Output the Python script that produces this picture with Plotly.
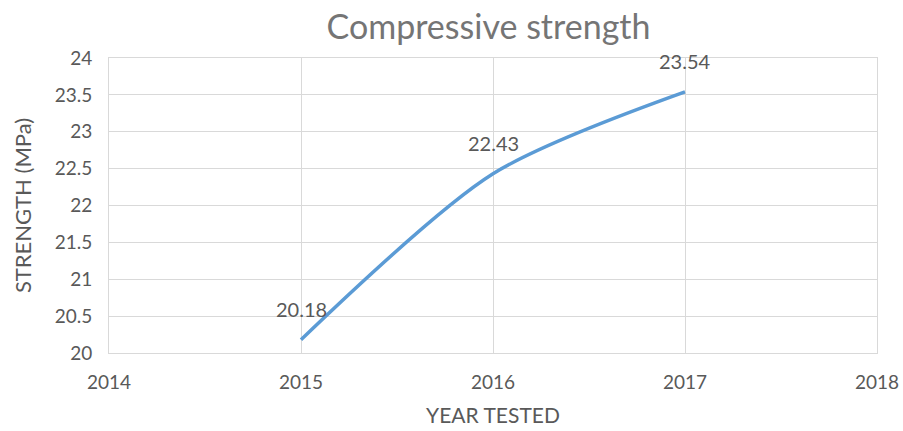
import plotly.graph_objects as go

years = [2015, 2016, 2017]
strength = [20.18, 22.43, 23.54]
labels = ["20.18", "22.43", "23.54"]
x_ticks = [2014, 2015, 2016, 2017, 2018]
y_ticks = [20, 20.5, 21, 21.5, 22, 22.5, 23, 23.5, 24]
y_tick_text = ["20", "20.5", "21", "21.5", "22", "22.5", "23", "23.5", "24"]

FONT = "Lato"
GRAY = "#595959"
GRID = "#D9D9D9"

fig = go.Figure()
fig.add_trace(go.Scatter(
    x=years, y=strength, mode="lines",
    line=dict(color="#5B9BD5", width=3.5, shape="spline", smoothing=0.8),
    hoverinfo="skip", cliponaxis=False,
))
for xv, yv, t in zip(years, strength, labels):
    fig.add_annotation(x=xv, y=yv, text=t, showarrow=False, yshift=31,
                       font=dict(family=FONT, size=20, color=GRAY))

fig.update_layout(
    width=903, height=431,
    margin=dict(l=109, r=26, t=58, b=78, autoexpand=False),
    paper_bgcolor="white", plot_bgcolor="white",
    showlegend=False,
    title=dict(text="Compressive strength", x=0.541, xanchor="center",
               y=0.937, yanchor="middle",
               font=dict(family=FONT, size=34, color="#757575")),
    font=dict(family=FONT, color=GRAY),
)
fig.update_xaxes(range=[2014, 2018], tickvals=x_ticks, ticktext=[str(v) for v in x_ticks],
                 showgrid=True, gridcolor=GRID, gridwidth=1, zeroline=False,
                 showline=True, linecolor=GRID, linewidth=1, mirror=True,
                 ticks="", tickfont=dict(family=FONT, size=19, color=GRAY),
                 ticklabelstandoff=12, automargin=False,
                 title=dict(text="YEAR TESTED", font=dict(family=FONT, size=21, color=GRAY), standoff=16))
fig.update_yaxes(range=[20, 24], tickvals=y_ticks, ticktext=y_tick_text,
                 showgrid=True, gridcolor=GRID, gridwidth=1, zeroline=False,
                 showline=True, linecolor=GRID, linewidth=1, mirror=True,
                 ticks="", tickfont=dict(family=FONT, size=19, color=GRAY),
                 ticklabelstandoff=12, automargin=False,
                 title=dict(text="STRENGTH (MPa)", font=dict(family=FONT, size=22, color=GRAY), standoff=16))

fig.write_html("out.html",
               config={"displayModeBar": False, "staticPlot": True},
               post_script="document.body.style.margin='0';document.body.style.overflow='hidden';")
